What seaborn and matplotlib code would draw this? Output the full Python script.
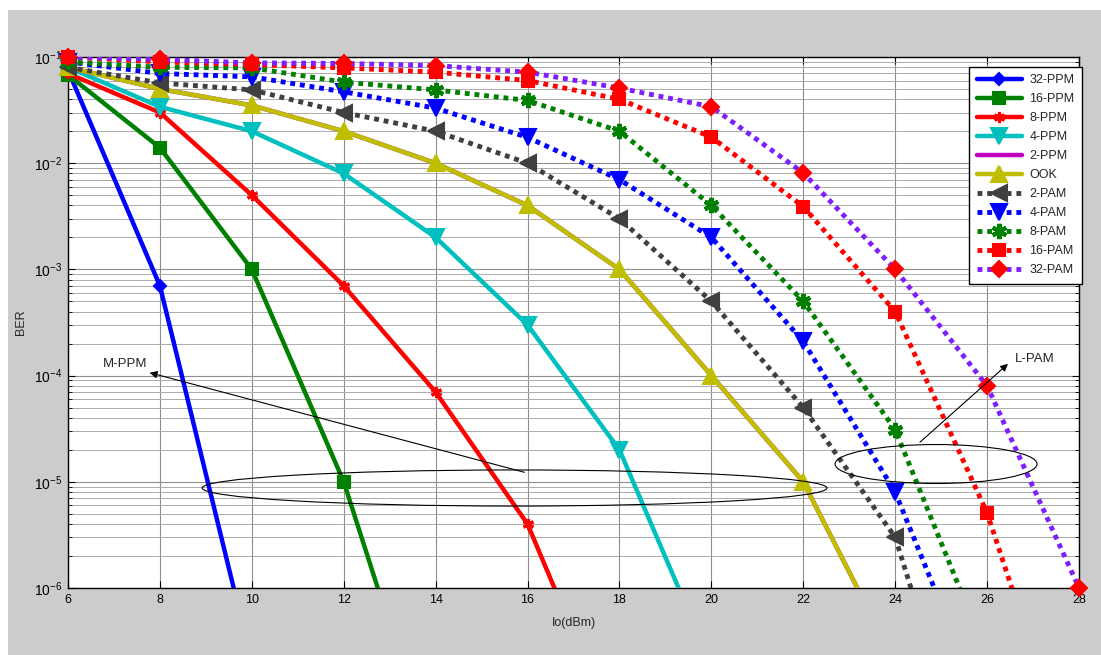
# BER vs Io curves for M-PPM, OOK and L-PAM
import numpy as np
import pandas as pd
import matplotlib
matplotlib.use("Agg")
import matplotlib.pyplot as plt
import seaborn as sns
from matplotlib.lines import Line2D
from matplotlib.patches import Ellipse, Rectangle

# === Data ===
io_dbm = [6, 8, 10, 12, 14, 16, 18, 20, 22, 24, 26, 28]

ber_32ppm = [0.075, 7e-4, 2e-7]
ber_16ppm = [0.068, 0.014, 1e-3, 1e-5, 2e-8]
ber_8ppm = [0.07, 0.03, 5e-3, 7e-4, 7e-5, 4e-6, 3.5e-8]
ber_4ppm = [0.08, 0.034, 0.02, 8e-3, 2e-3, 3e-4, 2e-5, 1.9e-7]
ber_2ppm = [0.08, 0.05, 0.035, 0.02, 0.01, 4e-3, 1e-3, 1e-4, 1e-5, 2e-7]
ber_ook = [0.08, 0.05, 0.035, 0.02, 0.01, 4e-3, 1e-3, 1e-4, 1e-5, 2e-7]
ber_2pam = [0.08, 0.057, 0.049, 0.03, 0.02, 0.01, 3e-3, 5e-4, 5e-5, 3e-6, 5e-9]
ber_4pam = [0.09, 0.07, 0.065, 0.047, 0.033, 0.0175, 7e-3, 2e-3, 2.1e-4, 8e-6, 6e-8]
ber_8pam = [0.09, 0.08, 0.079, 0.058, 0.049, 0.039, 0.02, 4e-3, 5e-4, 3.1e-5, 2.3e-7]
ber_16pam = [0.1, 0.09, 0.085, 0.079, 0.072, 0.06, 0.04, 0.0176, 3.9e-3, 4e-4, 5.1e-6, 1.2e-8]
ber_32pam = [0.1, 0.095, 0.088, 0.087, 0.083, 0.072, 0.051, 0.034, 8.1e-3, 1e-3, 8e-5, 1e-6]

labels = ["32-PPM", "16-PPM", "8-PPM", "4-PPM", "2-PPM", "OOK",
          "2-PAM", "4-PAM", "8-PAM", "16-PAM", "32-PAM"]
series = [ber_32ppm, ber_16ppm, ber_8ppm, ber_4ppm, ber_2ppm, ber_ook,
          ber_2pam, ber_4pam, ber_8pam, ber_16pam, ber_32pam]

# === Styles ===
dot = (0, (1, 1))
star = (6, 2, 0)
styles = {
    "32-PPM": dict(color="#0000ff", ls="-", marker="D", ms=6.5, mfc="#0000ff", mew=1.5),
    "16-PPM": dict(color="#008000", ls="-", marker="s", ms=9, mfc="#008000", mew=1.5),
    "8-PPM": dict(color="#ff0000", ls="-", marker=star, ms=8, mfc="#ff0000", mew=2.2),
    "4-PPM": dict(color="#00bfbf", ls="-", marker="v", ms=11, mfc="#00bfbf", mew=1.5),
    "2-PPM": dict(color="#bf00bf", ls="-", marker=None, ms=0, mfc="#bf00bf", mew=1),
    "OOK": dict(color="#bfbf00", ls="-", marker="^", ms=11, mfc="#bfbf00", mew=1.5),
    "2-PAM": dict(color="#404040", ls=dot, marker="<", ms=11, mfc="#404040", mew=1.5),
    "4-PAM": dict(color="#0000ff", ls=dot, marker="v", ms=11, mfc="#0000ff", mew=1.5),
    "8-PAM": dict(color="#008000", ls=dot, marker=star, ms=11, mfc="#008000", mew=3.0),
    "16-PAM": dict(color="#ff0000", ls=dot, marker="s", ms=9, mfc="#ff0000", mew=1.5),
    "32-PAM": dict(color="#7f1fff", ls=dot, marker="D", ms=8.5, mfc="#ff0000", mew=1.5),
}
mec = {"32-PAM": "#ff0000"}

sns.set_style("ticks")
plt.rcParams["font.family"] = ["Liberation Sans", "DejaVu Sans"]
plt.rcParams["mathtext.fontset"] = "custom"
plt.rcParams["mathtext.rm"] = "Liberation Sans"
plt.rcParams["mathtext.it"] = "Liberation Sans"

W, H = 1101, 655
fig = plt.figure(figsize=(W / 100, H / 100), dpi=100, facecolor="white")
fig.patches.append(Rectangle((8 / W, 0), 1, (H - 10) / H, transform=fig.transFigure,
                             facecolor="#cccccc", edgecolor="none", zorder=-10))
ax = fig.add_axes([68 / W, 67 / H, 1011 / W, 531 / H])
ax.set_facecolor("white")
ax.set_yscale("log")

handles = []
for i, (lab, ys) in enumerate(zip(labels, series)):
    st = styles[lab]
    xs = io_dbm[:len(ys)]
    lw = 3.5 if st["ls"] == dot else 3.2
    edge = mec.get(lab, st["mfc"])
    # line, clipped to the axes
    sns.lineplot(x=xs, y=ys, ax=ax, color=st["color"], linestyle=st["ls"],
                 linewidth=lw, estimator=None, sort=False, zorder=3 + i)
    # markers, not clipped (like MATLAB)
    if st["marker"] is not None:
        df = pd.DataFrame({"x": xs, "y": ys})
        df = df[df["y"] >= 1e-6]
        sns.lineplot(data=df, x="x", y="y", ax=ax, linestyle="none",
                     marker=st["marker"], markersize=st["ms"],
                     markerfacecolor=st["mfc"], markeredgecolor=edge,
                     markeredgewidth=st["mew"], estimator=None, sort=False,
                     clip_on=False, zorder=3 + i)
    handles.append(Line2D([], [], color=st["color"], linestyle=st["ls"], linewidth=lw,
                          marker=st["marker"], markersize=st["ms"],
                          markerfacecolor=st["mfc"], markeredgecolor=edge,
                          markeredgewidth=st["mew"], label=lab))

# === Axes ===
ax.set_xlim(6, 28)
ax.set_ylim(1e-6, 1e-1)
ax.set_xticks(range(6, 29, 2))
ax.grid(True, which="major", color="#909090", linewidth=0.8)
ax.grid(True, which="minor", axis="y", color="#ababab", linewidth=0.7)
ax.tick_params(which="both", direction="in", top=True, right=True, labelsize=9,
               colors="black", pad=4)
ax.tick_params(axis="y", which="major", labelsize=10)
ax.tick_params(which="major", length=5, width=0.8)
ax.tick_params(which="minor", length=3, width=0.6)
for sp in ax.spines.values():
    sp.set_color("black")
    sp.set_linewidth(1.0)
ax.set_xlabel("Io(dBm)", fontsize=9, labelpad=8)
ax.set_ylabel("BER", fontsize=9, labelpad=5)

leg = ax.legend(handles=handles, loc="upper right", bbox_to_anchor=(1.003, 0.982),
                borderaxespad=0, fontsize=9, handlelength=3.6, handletextpad=0.6,
                labelspacing=0.56, frameon=True, fancybox=False, framealpha=1,
                edgecolor="black", borderpad=0.6)
leg.get_frame().set_linewidth(1.0)
leg.set_zorder(50)

# === Annotations ===
ax.add_patch(Ellipse((0.4417, 0.1883), 0.618, 0.068, transform=ax.transAxes,
                     fill=False, edgecolor="black", linewidth=0.8, zorder=40))
ax.add_patch(Ellipse((0.8586, 0.2335), 0.1998, 0.0734, transform=ax.transAxes,
                     fill=False, edgecolor="black", linewidth=0.8, zorder=40))
ax.annotate("", xy=(0.0781, 0.4068), xytext=(0.454, 0.2166),
            xycoords="axes fraction", textcoords="axes fraction",
            arrowprops=dict(arrowstyle="-|>", color="black", lw=0.8, mutation_scale=11),
            zorder=40)
ax.text(0.0346, 0.422, "M-PPM", transform=ax.transAxes, fontsize=9.5, va="center",
        ha="left", zorder=40)
ax.annotate("", xy=(0.9318, 0.4256), xytext=(0.8407, 0.2712),
            xycoords="axes fraction", textcoords="axes fraction",
            arrowprops=dict(arrowstyle="-|>", color="black", lw=0.8, mutation_scale=11),
            zorder=40)
ax.text(0.9367, 0.432, "L-PAM", transform=ax.transAxes, fontsize=9.5, va="center",
        ha="left", zorder=40)

fig.savefig("out.png", dpi=100, facecolor=fig.get_facecolor())
